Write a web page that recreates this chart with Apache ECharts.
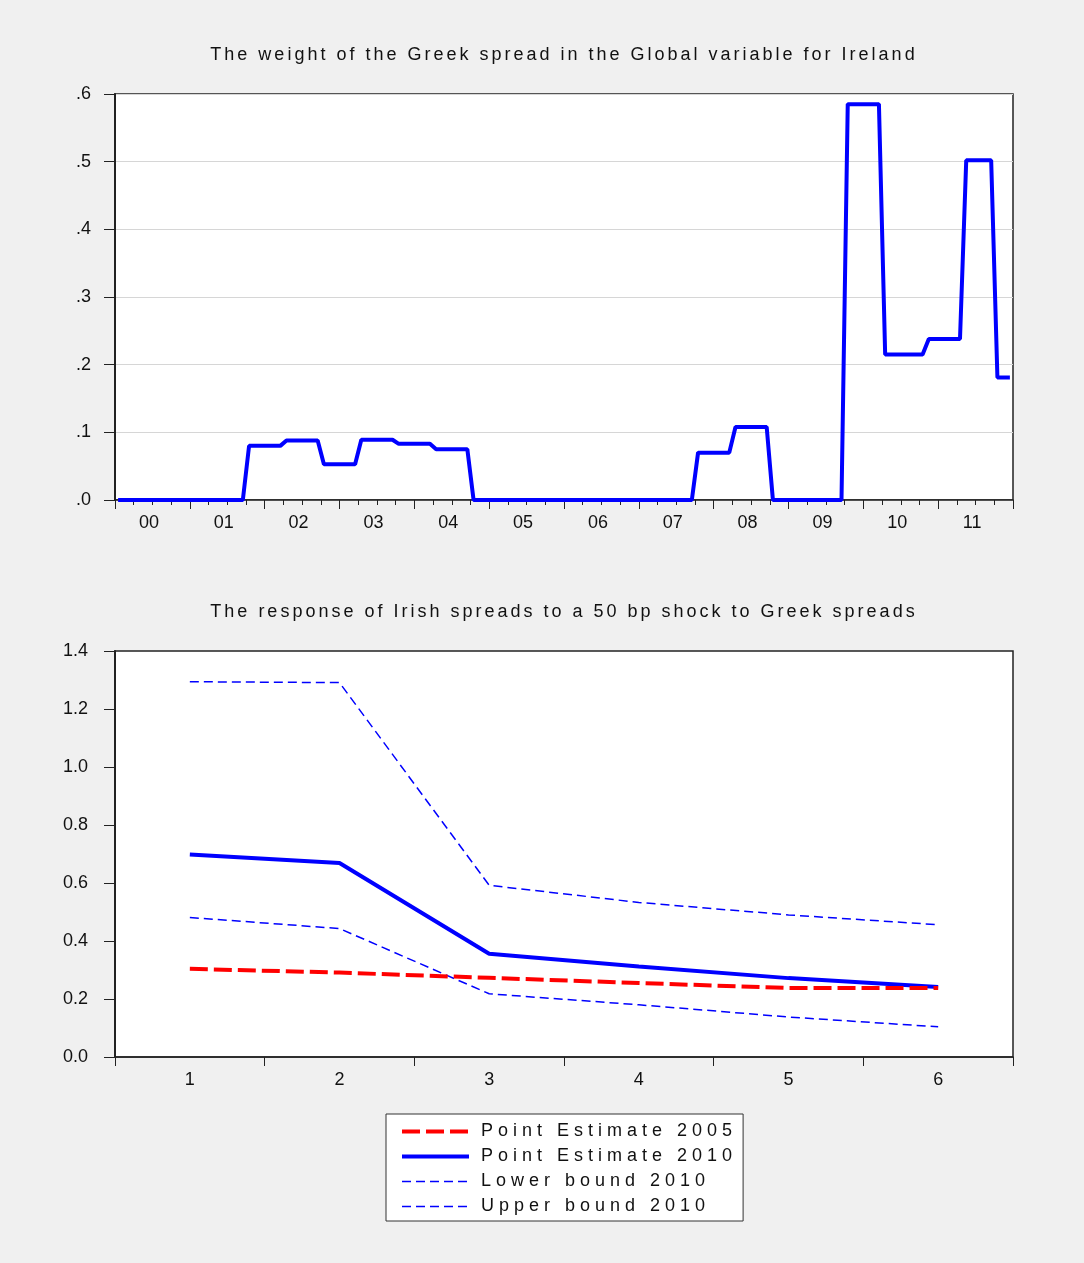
<!DOCTYPE html>
<html>
<head>
<meta charset="utf-8">
<title>Greek spread weight and Irish spread response</title>
<script src="https://cdn.jsdelivr.net/npm/echarts@6.0.0/dist/echarts.min.js"></script>
<style>
  html, body { margin: 0; padding: 0; background: #f0f0f0; }
  #chart { width: 1084px; height: 1263px; }
</style>
</head>
<body>
<div id="chart"></div>
<script>
// top panel: months since Jan 2000 where the weight changes level, and the weight there
const weightMonths = [0, 20, 21, 26, 27, 32, 33, 38, 39, 44, 45, 50, 51, 56, 57,
  92, 93, 98, 99, 104, 105, 116, 117, 122, 123, 129, 130, 135, 136, 140, 141, 143];
const weightValues = [0, 0, 0.080, 0.080, 0.088, 0.088, 0.053, 0.053, 0.089, 0.089, 0.083, 0.083, 0.075, 0.075, 0,
  0, 0.070, 0.070, 0.108, 0.108, 0, 0, 0.585, 0.585, 0.215, 0.215, 0.238, 0.238, 0.502, 0.502, 0.181, 0.181];
const yearLabels = ['00', '01', '02', '03', '04', '05', '06', '07', '08', '09', '10', '11'];
const weightTicks = ['.0', '.1', '.2', '.3', '.4', '.5', '.6'];

// bottom panel: impulse responses by horizon
const horizons = ['1', '2', '3', '4', '5', '6'];
const pointEst2005 = [0.304, 0.291, 0.273, 0.255, 0.238, 0.238];
const pointEst2010 = [0.698, 0.669, 0.356, 0.312, 0.272, 0.241];
const lower2010 = [0.481, 0.443, 0.218, 0.180, 0.138, 0.104];
const upper2010 = [1.294, 1.291, 0.592, 0.533, 0.490, 0.456];
const responseTicks = ['0.0', '0.2', '0.4', '0.6', '0.8', '1.0', '1.2', '1.4'];

// EViews spaces its titles out. zrender has no letterSpacing, so fonts that name a
// "spacedN" family get N px through the canvas letterSpacing (measuring included).
['fillText', 'measureText'].forEach((fn) => {
  const orig = CanvasRenderingContext2D.prototype[fn];
  CanvasRenderingContext2D.prototype[fn] = function (...args) {
    const m = /spaced(\d+)/.exec(this.font);
    if (!m) return orig.apply(this, args);
    const prev = this.letterSpacing;
    this.letterSpacing = m[1] + 'px';
    const res = orig.apply(this, args);
    this.letterSpacing = prev;
    return res;
  };
});

const baseFont = '"Liberation Sans", Arial, sans-serif';
const spaced = (n) => `"Liberation Sans", Arial, spaced${n}`;
const dark = '#222';
const textColor = '#111';

const chart = echarts.init(document.getElementById('chart'));

const gridStyle = {
  show: true,
  backgroundColor: '#fff',
  borderColor: dark,
  borderWidth: 1.5,
};

const labelStyle = { fontSize: 18, color: textColor, fontFamily: baseFont };

const responseLines = [
  { name: 'Lower bound 2010', data: lower2010, color: '#0000ff', width: 1.5, type: [9, 5] },
  { name: 'Upper bound 2010', data: upper2010, color: '#0000ff', width: 1.5, type: [9, 5] },
  { name: 'Point Estimate 2010', data: pointEst2010, color: '#0000ff', width: 4, type: 'solid' },
  { name: 'Point Estimate 2005', data: pointEst2005, color: '#ff0000', width: 4, type: [18, 6] },
];

const option = {
  backgroundColor: '#f0f0f0',
  animation: false,
  title: [
    {
      text: 'The weight of the Greek spread in the Global variable for Ireland',
      left: 564,
      top: 45,
      textAlign: 'center',
      padding: 0,
      textStyle: { fontFamily: spaced(3), fontSize: 18, fontWeight: 'normal', color: textColor },
    },
    {
      text: 'The response of Irish spreads to a 50 bp shock to Greek spreads',
      left: 564,
      top: 602,
      textAlign: 'center',
      padding: 0,
      textStyle: { fontFamily: spaced(3), fontSize: 18, fontWeight: 'normal', color: textColor },
    },
  ],
  legend: {
    data: ['Point Estimate 2005', 'Point Estimate 2010', 'Lower bound 2010', 'Upper bound 2010'],
    orient: 'vertical',
    left: 386,
    top: 1114,
    padding: [6, 6, 3, 14],
    itemWidth: 67,
    itemHeight: 16,
    itemGap: 2,
    backgroundColor: '#fff',
    borderColor: '#333',
    borderWidth: 1,
    selectedMode: false,
    lineStyle: { width: 'inherit' },
    // line series always put a marker in the icon; keep it invisible
    itemStyle: { color: 'transparent', borderWidth: 0, opacity: 0 },
    textStyle: { fontFamily: spaced(5), fontSize: 18, color: textColor, padding: [0, 0, 0, 7] },
  },
  grid: [
    Object.assign({ left: 115, top: 94, width: 898, height: 406 }, gridStyle),
    Object.assign({ left: 115, top: 651, width: 898, height: 406 }, gridStyle),
  ],
  xAxis: [
    {
      // quarterly ticks, year label in the middle of each year
      type: 'value',
      gridIndex: 0,
      min: 0,
      max: 144,
      interval: 3,
      axisLine: { onZero: false, lineStyle: { color: dark, width: 1.5 } },
      axisTick: { show: true, length: 5, lineStyle: { color: dark } },
      axisLabel: Object.assign({}, labelStyle, {
        margin: 14,
        padding: [0, 7, 0, 0],
        formatter: (v) => (v % 12 === 6 ? yearLabels[(v - 6) / 12] : ''),
      }),
      splitLine: { show: false },
    },
    {
      // longer ticks at year boundaries
      type: 'value',
      gridIndex: 0,
      position: 'bottom',
      min: 0,
      max: 144,
      interval: 12,
      axisLine: { show: false },
      axisTick: { show: true, length: 9, lineStyle: { color: dark } },
      axisLabel: { show: false },
      splitLine: { show: false },
    },
    {
      type: 'category',
      gridIndex: 1,
      data: horizons,
      boundaryGap: true,
      axisLine: { lineStyle: { color: dark, width: 1.5 } },
      axisTick: { show: true, length: 9, lineStyle: { color: dark } },
      axisLabel: Object.assign({}, labelStyle, { margin: 14 }),
      splitLine: { show: false },
    },
  ],
  yAxis: [
    {
      type: 'value',
      gridIndex: 0,
      min: 0,
      max: 0.6,
      interval: 0.1,
      axisLine: { show: true, lineStyle: { color: dark, width: 2 } },
      axisTick: { show: true, length: 11, lineStyle: { color: dark } },
      axisLabel: Object.assign({}, labelStyle, {
        margin: 24,
        formatter: (v) => weightTicks[Math.round(v * 10)],
      }),
      splitLine: { show: true, lineStyle: { color: '#d6d6d6', width: 1 } },
    },
    {
      type: 'value',
      gridIndex: 1,
      min: 0,
      max: 1.4,
      interval: 0.2,
      axisLine: { show: true, lineStyle: { color: dark, width: 2 } },
      axisTick: { show: true, length: 11, lineStyle: { color: dark } },
      axisLabel: Object.assign({}, labelStyle, {
        margin: 27,
        formatter: (v) => responseTicks[Math.round(v / 0.2)],
      }),
      splitLine: { show: false },
    },
  ],
  series: [
    {
      name: 'Weight',
      type: 'line',
      xAxisIndex: 0,
      yAxisIndex: 0,
      // plotted mid-month
      data: weightMonths.map((m, i) => [m + 0.5, weightValues[i]]),
      symbol: 'none',
      lineStyle: { color: '#0000ff', width: 4 },
      itemStyle: { color: '#0000ff' },
      z: 3,
    },
  ].concat(responseLines.map((s) => ({
    name: s.name,
    type: 'line',
    xAxisIndex: 2,
    yAxisIndex: 1,
    data: s.data,
    symbol: 'none',
    lineStyle: { color: s.color, width: s.width, type: s.type },
    itemStyle: { color: s.color },
    z: 3,
  }))),
};

chart.setOption(option);

window.addEventListener('resize', () => {
  chart.resize();
});
</script>
</body>
</html>
